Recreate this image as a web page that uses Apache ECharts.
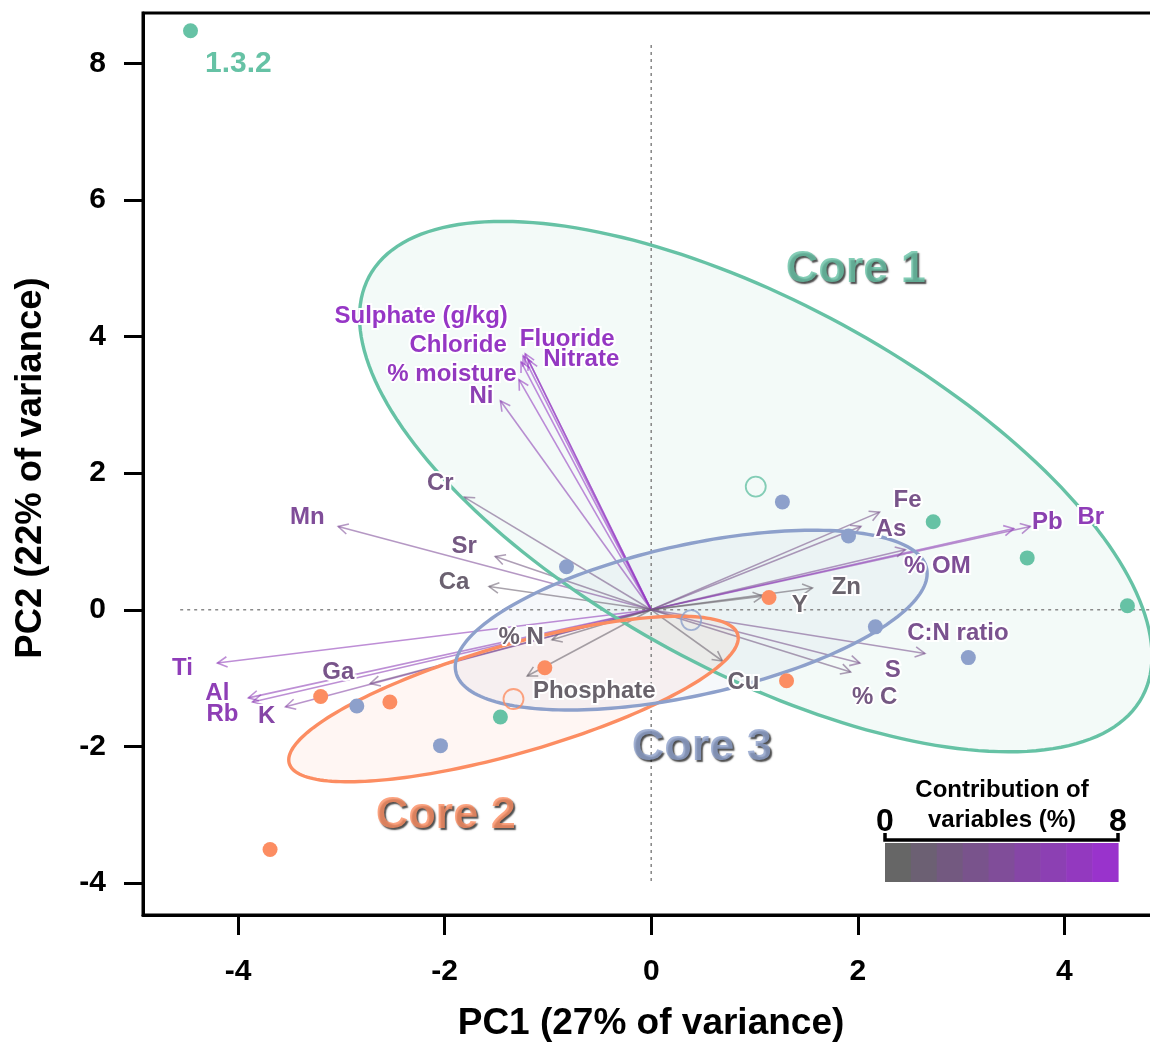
<!DOCTYPE html>
<html><head><meta charset="utf-8">
<script src="https://cdn.jsdelivr.net/npm/echarts@6/dist/echarts.min.js"></script>
<style>html,body{margin:0;padding:0;background:#fff}#chart{width:1150px;height:1045px}</style>
</head><body><div id="chart"></div>
<script>
// ---------------- data ----------------
const groupNames = ['Core 1', 'Core 2', 'Core 3'];
const groupColors = ['#66C2A5', '#FC8D62', '#8DA0CB'];

const core1PC1 = [-4.46, 2.73, 3.64, 4.61, -1.46];
const core1PC2 = [8.48, 1.29, 0.76, 0.06, -1.57];
const core1Names = ['1.3.2', '', '', '', ''];

const core2PC1 = [-3.69, -3.20, -2.53, -1.03, 1.14, 1.31];
const core2PC2 = [-3.51, -1.27, -1.35, -0.85, 0.18, -1.04];

const core3PC1 = [-0.82, 1.27, 1.91, 2.17, 3.07, -2.85, -2.04];
const core3PC2 = [0.63, 1.58, 1.08, -0.25, -0.70, -1.41, -1.99];

const varNames = ['Sulphate (g/kg)', 'Fluoride', 'Nitrate', 'Chloride', '% moisture', 'Ni', 'Cr', 'Mn', 'Sr', 'Ca',
  'Ti', 'Al', 'Rb', 'K', 'Ga', '% N', 'Phosphate', 'Cu', 'Fe', 'As', 'Pb', 'Br', '% OM', 'Zn', 'Y', 'C:N ratio', 'S', '% C'];
const varPC1 = [-1.24, -1.22, -1.19, -1.26, -1.28, -1.46, -1.81, -3.03, -1.51, -1.57,
  -4.20, -3.90, -3.86, -3.54, -2.72, -0.96, -1.20, 0.69, 2.21, 2.03, 3.67, 3.51, 2.46, 1.56, 1.08, 2.65, 2.02, 1.93];
const varPC2 = [3.72, 3.75, 3.66, 3.63, 3.37, 3.06, 1.65, 1.22, 0.78, 0.34,
  -0.78, -1.29, -1.35, -1.42, -1.08, -0.44, -0.97, -0.75, 1.43, 1.22, 1.22, 1.19, 0.88, 0.32, 0.20, -0.64, -0.78, -0.91];
const varContrib = [7.5, 7.3, 7.2, 7.4, 7.0, 6.0, 2.5, 4.0, 2.2, 0.8,
  6.5, 6.3, 6.2, 5.0, 2.8, 0.6, 0.4, 0.7, 2.8, 3.0, 5.8, 6.4, 3.8, 0.5, 0.4, 3.2, 3.0, 2.2];

const xTicks = [-4, -2, 0, 2, 4];
const yTicks = [-4, -2, 0, 2, 4, 6, 8];
const contribRange = [0, 8];

// ---------------- layout (not data) ----------------
const labelNudge = [[-102, -39], [42, -14], [53, 0], [-63, -17], [-67, -5], [-19, -4], [-24, -14], [-31, -9], [-31, -10], [-35, -4],
  [-35, 5], [-31, -4], [-30, 12], [-19, 10], [-32, -11], [-31, -2], [67, 15], [21, 21], [28, -12], [30, 3], [17, -4], [77, -11],
  [32, 17], [34, -1], [37, 9], [33, -20], [33, 7], [24, 25]];
const groupLabelAt = [[1.98, 4.98], [-1.99, -3.02], [0.49, -2.02]];
const refV = [8.27, -4.0];
const refH = [-4.56, 5.0];

const FONT = '"Liberation Sans", Arial, Helvetica, sans-serif';
const groupPC1 = [core1PC1, core2PC1, core3PC1];
const groupPC2 = [core1PC2, core2PC2, core3PC2];

function contribColor(c, alpha) {
  const t = Math.max(0, Math.min(1, (c - contribRange[0]) / (contribRange[1] - contribRange[0])));
  const r = Math.round(102 + (153 - 102) * t), g = Math.round(102 + (51 - 102) * t), b = Math.round(102 + (204 - 102) * t);
  return alpha == null ? `rgb(${r},${g},${b})` : `rgba(${r},${g},${b},${alpha})`;
}
function stats(xs, ys) {
  const n = xs.length;
  const mx = xs.reduce((a, b) => a + b, 0) / n, my = ys.reduce((a, b) => a + b, 0) / n;
  let sxx = 0, syy = 0, sxy = 0;
  for (let i = 0; i < n; i++) { sxx += (xs[i] - mx) ** 2; syy += (ys[i] - my) ** 2; sxy += (xs[i] - mx) * (ys[i] - my); }
  return { mx, my, sxx: sxx / (n - 1), syy: syy / (n - 1), sxy: sxy / (n - 1) };
}
const groupStats = groupPC1.map((xs, i) => stats(xs, groupPC2[i]));

function ellipseRender(fill) {
  return function (params, api) {
    const gi = api.value(2);
    const s = groupStats[gi];
    const a = Math.sqrt(s.sxx), b = s.sxy / a, c = Math.sqrt(Math.max(0, s.syy - b * b));
    const pts = [];
    for (let k = 0; k < 200; k++) {
      const t = 2 * Math.PI * k / 200;
      pts.push(api.coord([s.mx + a * Math.cos(t), s.my + b * Math.cos(t) + c * Math.sin(t)]));
    }
    const col = groupColors[gi];
    return {
      type: 'polygon', shape: { points: pts },
      style: fill ? { fill: echarts.color.modifyAlpha(col, 0.08), stroke: null }
                  : { fill: null, stroke: col, lineWidth: 3.4 }
    };
  };
}
const ellipseData = groupStats.map((s, i) => [s.mx, s.my, i]);
const varData = varPC1.map((x, i) => [x, varPC2[i], varContrib[i], i]);

const series = [
  { type: 'custom', name: 'ellFill', coordinateSystem: 'cartesian2d', data: ellipseData, encode: { x: 0, y: 1 },
    renderItem: ellipseRender(true), z: 1, silent: true, clip: false },
  { type: 'line', data: [[0, refV[0]], [0, refV[1]]], symbol: 'none', z: 2, silent: true,
    lineStyle: { color: '#8a8a8a', width: 1.6, type: [3, 4] } },
  { type: 'line', data: [[refH[0], 0], [refH[1], 0]], symbol: 'none', z: 2, silent: true,
    lineStyle: { color: '#8a8a8a', width: 1.6, type: [3, 4] } },
  { type: 'custom', name: 'arrows', coordinateSystem: 'cartesian2d', data: varData, encode: { x: 0, y: 1 }, z: 3, silent: true,
    renderItem: function (params, api) {
      const p0 = api.coord([0, 0]);
      const p1 = api.coord([api.value(0), api.value(1)]);
      const col = contribColor(api.value(2), 0.58);
      const ang = Math.atan2(p1[1] - p0[1], p1[0] - p0[0]);
      const L = 11, th = 28 * Math.PI / 180;
      const h1 = [p1[0] + L * Math.cos(ang + Math.PI - th), p1[1] + L * Math.sin(ang + Math.PI - th)];
      const h2 = [p1[0] + L * Math.cos(ang + Math.PI + th), p1[1] + L * Math.sin(ang + Math.PI + th)];
      return { type: 'group', children: [
        { type: 'line', shape: { x1: p0[0], y1: p0[1], x2: p1[0], y2: p1[1] }, style: { stroke: col, lineWidth: 1.6 } },
        { type: 'polyline', shape: { points: [h1, p1, h2] }, style: { stroke: col, lineWidth: 1.6, fill: null } }
      ] };
    } },
  { type: 'custom', name: 'ellLine', coordinateSystem: 'cartesian2d', data: ellipseData, encode: { x: 0, y: 1 },
    renderItem: ellipseRender(false), z: 4, silent: true, clip: false }
];

groupNames.forEach((g, gi) => {
  const xs = groupPC1[gi], ys = groupPC2[gi];
  series.push({
    type: 'scatter', name: g, z: 5, silent: true, symbolSize: 15,
    itemStyle: { color: groupColors[gi], opacity: 1 },
    data: xs.map((x, i) => {
      const item = { value: [x, ys[i]] };
      if (gi === 0 && core1Names[i]) {
        item.label = { show: true, formatter: core1Names[i], position: [22, 25], fontSize: 30, fontWeight: 'bold',
          fontFamily: FONT, color: groupColors[gi] };
      }
      return item;
    })
  });
  series.push({
    type: 'scatter', name: g + ' mean', z: 5, silent: true, symbolSize: 20,
    itemStyle: { color: 'rgba(255,255,255,0)', borderColor: groupColors[gi], borderWidth: 1.8 },
    data: [[groupStats[gi].mx, groupStats[gi].my]]
  });
});

series.push({
  type: 'custom', name: 'varLabels', coordinateSystem: 'cartesian2d', data: varData, encode: { x: 0, y: 1 }, z: 6, silent: true,
  renderItem: function (params, api) {
    const i = api.value(3);
    const p1 = api.coord([api.value(0), api.value(1)]);
    return { type: 'text', x: p1[0] + labelNudge[i][0], y: p1[1] + labelNudge[i][1],
      style: { text: varNames[i], fill: contribColor(api.value(2)), stroke: '#fff', lineWidth: 4,
        font: 'bold 24px ' + FONT, align: 'center', verticalAlign: 'middle', textAlign: 'center', textVerticalAlign: 'middle' } };
  }
});

series.push({
  type: 'scatter', name: 'groupLabels', z: 7, silent: true, symbolSize: 0,
  data: groupLabelAt.map((p, i) => ({
    value: p,
    label: { show: true, position: 'inside', formatter: groupNames[i], fontSize: 45, fontWeight: 'bold', fontFamily: FONT,
      color: groupColors[i], textShadowColor: 'rgba(10,10,10,0.9)', textShadowOffsetX: 1.8, textShadowOffsetY: 1.8, textShadowBlur: 1.5 }
  }))
});

// legend graphic
const legX0 = 885, legX1 = 1118, legY = 843, legH = 39, nBands = 9;
const graphics = [];
for (let k = 0; k < nBands; k++) {
  const w = (legX1 - legX0) / nBands;
  graphics.push({ type: 'rect', shape: { x: legX0 + k * w, y: legY, width: w + 0.6, height: legH },
    style: { fill: contribColor(contribRange[0] + (contribRange[1] - contribRange[0]) * k / (nBands - 1)) }, z: 100 });
}
graphics.push({ type: 'polyline', shape: { points: [[legX0, 833], [legX0, 840], [legX1, 840], [legX1, 833]] },
  style: { stroke: '#000', lineWidth: 3.5, fill: null }, z: 100 });
const txt = (t, x, y, size, extra) => Object.assign({ type: 'text', x: x, y: y, z: 101,
  style: { text: t, font: 'bold ' + size + 'px ' + FONT, fill: '#000', align: 'center', verticalAlign: 'middle',
    textAlign: 'center', textVerticalAlign: 'middle' } }, extra || {});
graphics.push(txt(String(contribRange[0]), legX0, 822, 32));
graphics.push(txt(String(contribRange[1]), legX1, 822, 32));
graphics.push(txt('Contribution of', 1002, 790, 24));
graphics.push(txt('variables (%)', 1002, 820, 24));
graphics.push(txt('PC1 (27% of variance)', 651, 1024, 37));
graphics.push(txt('PC2 (22% of variance)', 31, 468, 36.5, { rotation: Math.PI / 2 }));

const chart = echarts.init(document.getElementById('chart'), null, { renderer: 'canvas' });
chart.setOption({
  animation: false,
  backgroundColor: '#fff',
  grid: { left: 143, top: 13, width: 1024.7, height: 902, show: true, borderColor: '#000', borderWidth: 3,
    backgroundColor: 'transparent', outerBoundsMode: 'none', containLabel: false },
  xAxis: {
    type: 'value', min: -4.92, max: 5.0,
    axisLine: { show: true, onZero: false, lineStyle: { color: '#000', width: 3 } },
    axisTick: { show: true, inside: false, length: 20, lineStyle: { color: '#000', width: 3 }, customValues: xTicks },
    axisLabel: { show: true, customValues: xTicks, fontSize: 30, fontWeight: 'bold', fontFamily: FONT, color: '#000', margin: 42 },
    splitLine: { show: false }
  },
  yAxis: {
    type: 'value', min: -4.47, max: 8.74,
    axisLine: { show: true, onZero: false, lineStyle: { color: '#000', width: 3 } },
    axisTick: { show: true, inside: false, length: 19, lineStyle: { color: '#000', width: 3 }, customValues: yTicks },
    axisLabel: { show: true, customValues: yTicks, fontSize: 30, fontWeight: 'bold', fontFamily: FONT, color: '#000', margin: 37 },
    splitLine: { show: false }
  },
  graphic: graphics,
  series: series
});
</script>
</body></html>
